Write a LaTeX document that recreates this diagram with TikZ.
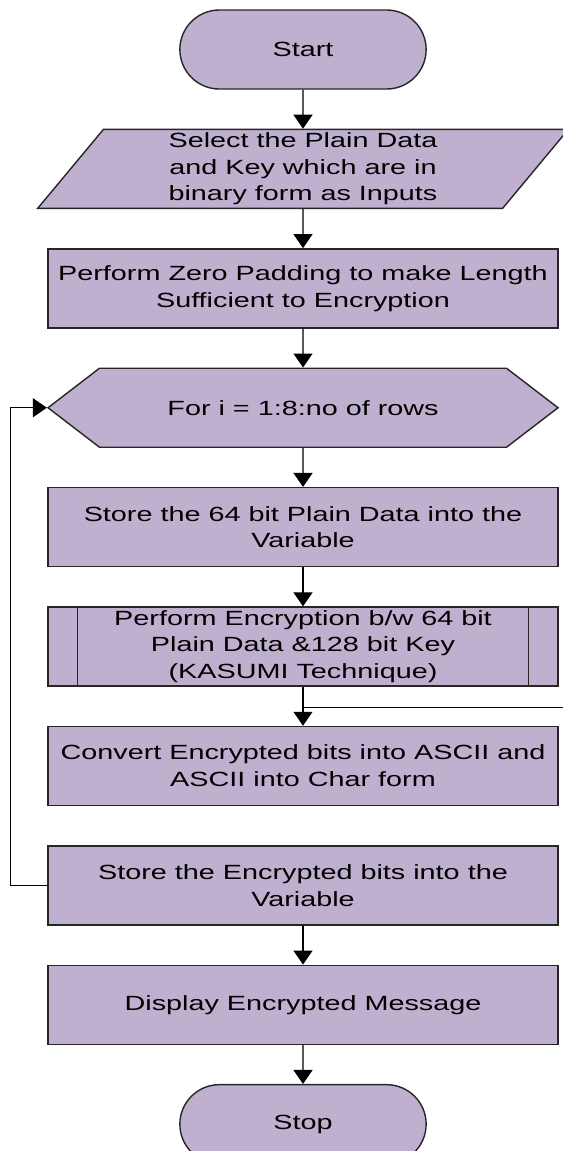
\documentclass[tikz,border=0pt]{standalone}
\usepackage{fontspec}
\newfontfamily\flowfont{Liberation Sans}[FakeStretch=1.4]
\usepackage{tikz}
\usetikzlibrary{shapes,arrows.meta,positioning,calc}
\definecolor{boxfill}{RGB}{191,176,208}

\begin{document}
\begin{tikzpicture}[
    node distance=0.78cm,
    every node/.style={draw=black!85, line width=0.8pt, fill=boxfill, text=black, align=center,
        font=\flowfont\fontsize{11.7}{15.2}\selectfont, minimum height=1.58cm, inner ysep=1pt},
    terminal/.style={rounded rectangle, minimum width=5.16cm},
    process/.style={rectangle, minimum width=10.2cm, inner xsep=2pt},
    io/.style={trapezium, trapezium left angle=57.5, trapezium right angle=122.5, trapezium stretches=true,
        minimum width=10.64cm, inner ysep=0pt},
    loophead/.style={signal, signal to=west and east, signal pointer angle=75, minimum width=10.2cm},
    line/.style={draw=black, line width=0.7pt, -{Triangle[width=0.38cm,length=0.28cm]}}
]
    \useasboundingbox (0,0) rectangle (11.26,-23.02);
    \node [terminal] (start) at (6.06,-0.99) {Start};
    \node [io, below=of start] (input) {Select the Plain Data\\and Key which are in\\binary form as Inputs};
    \node [process, below=of input] (padding) {Perform Zero Padding to make Length\\Sufficient to Encryption};
    \node [loophead, below=of padding] (forloop) {For i = 1:8:no of rows};
    \node [process, below=of forloop] (store1) {Store the 64 bit Plain Data into the\\Variable};
    \node [process, below=of store1, inner ysep=0pt] (encrypt) {Perform Encryption b/w 64 bit\\Plain Data \&128 bit Key\\(KASUMI Technique)};
    \node [process, below=of encrypt] (convert) {Convert Encrypted bits into ASCII and\\ASCII into Char form};
    \node [process, below=of convert] (store2) {Store the Encrypted bits into the\\Variable};
    \node [process, below=of store2] (display) {Display Encrypted Message};
    \node [terminal, below=of display] (stop) {Stop};
    \coordinate [below=0.42cm of encrypt] (join);

    \draw [line width=0.8pt, draw=black!85] ([xshift=0.6cm]encrypt.north west) -- ([xshift=0.6cm]encrypt.south west);
    \draw [line width=0.8pt, draw=black!85] ([xshift=-0.6cm]encrypt.north east) -- ([xshift=-0.6cm]encrypt.south east);

    \draw [line] (start) -- (input);
    \draw [line] (input) -- (padding);
    \draw [line] (padding) -- (forloop);
    \draw [line] (forloop) -- (store1);
    \draw [line] (store1) -- (encrypt);
    \draw [line] (encrypt) -- (convert);
    \draw [line] (store2) -- (display);
    \draw [line] (display) -- (stop);
    \draw [line] (store2.west) -- ([xshift=-0.74cm]store2.west) |- (forloop.west);
    \draw [draw=black, line width=0.7pt] (join) -- ++(5.4,0);
\end{tikzpicture}
\end{document}
